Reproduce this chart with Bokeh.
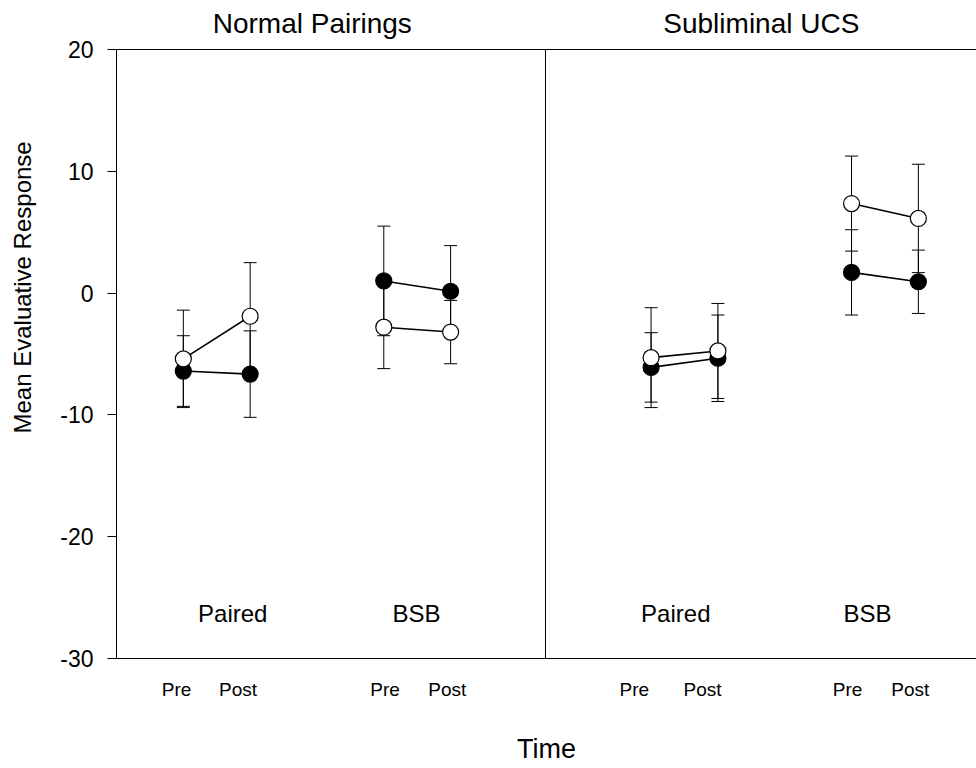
import math
from bokeh.plotting import figure
from bokeh.layouts import row
from bokeh.models import Range1d, FixedTicker, Span, Label, CustomJSTickFormatter, LinearAxis
from bokeh.core.properties import value
from bokeh.embed import file_html
from bokeh.resources import INLINE

# ---- data ----
panels = ["Normal Pairings", "Subliminal UCS"]
groups = ["Paired", "BSB"]
times = ["Pre", "Post"]
y_ticks = [-30, -20, -10, 0, 10, 20]
y_title = "Mean Evaluative Response"
x_title = "Time"

# order: panel -> group -> time (Pre, Post)
filled_mean = [-6.4, -6.65, 1.0, 0.15, -6.1, -5.35, 1.7, 0.93]
filled_err = [2.9, 3.55, 4.5, 3.75, 2.85, 3.55, 3.5, 2.6]
open_mean = [-5.4, -1.9, -2.8, -3.2, -5.3, -4.75, 7.35, 6.13]
open_err = [4.0, 4.4, 3.4, 2.6, 4.1, 3.9, 3.9, 4.45]

# ---- layout ----
slots = [1, 2, 4, 5]
panel_offset = [0, 7]
x_end = 12.87
divider = 6.42
tick_label_x = [0.9, 1.82, 4.02, 4.95, 7.75, 8.77, 10.94, 11.88]
group_label_x = [1.74, 4.49, 8.37, 11.24]
title_x = [2.93, 9.65]
FONT = "Liberation Sans"
W_LAB = 50
H = 768

xs = [off + s for off in panel_offset for s in slots]

# narrow strip holding the vertical y-axis title
lab = figure(width=W_LAB, height=H, x_range=Range1d(0, W_LAB), y_range=Range1d(0, H),
             output_backend="svg", toolbar_location=None, x_axis_location=None, y_axis_location=None,
             min_border=0)
lab.grid.visible = False
lab.outline_line_color = None
lab.text(x=[22], y=[H - 300], text=[y_title], angle=math.pi / 2, text_align="center",
         text_baseline="middle", text_font=value(FONT), text_font_size="24px", text_color="black")

p = figure(width=976 - W_LAB, height=H, x_range=Range1d(0, x_end), y_range=Range1d(-30, 20),
           output_backend="svg", toolbar_location=None,
           min_border_left=116 - W_LAB, min_border_right=0, min_border_top=49, min_border_bottom=110)
p.grid.visible = False
p.outline_line_color = None
p.background_fill_color = "white"
p.border_fill_color = "white"

# y axis
ya = p.yaxis[0]
ya.ticker = FixedTicker(ticks=y_ticks)
ya.formatter = CustomJSTickFormatter(code="return tick.toString();")
ya.minor_tick_line_color = None
ya.major_tick_in = 0
ya.major_tick_out = 9
ya.major_label_standoff = 14
ya.major_label_text_font = FONT
ya.major_label_text_font_size = "23px"
ya.major_label_text_color = "black"
ya.axis_line_color = "black"
ya.major_tick_line_color = "black"

# x axis (bottom)
tick_labels = [t for _ in panels for _ in groups for t in times]
xa = p.xaxis[0]
xa.ticker = FixedTicker(ticks=tick_label_x)
xa.formatter = CustomJSTickFormatter(args=dict(labels=tick_labels), code="return labels[index];")
xa.major_tick_line_color = None
xa.minor_tick_line_color = None
xa.major_tick_in = 0
xa.major_tick_out = 0
xa.major_label_standoff = 20
xa.major_label_text_font = FONT
xa.major_label_text_font_size = "19px"
xa.major_label_text_color = "black"
xa.axis_label = x_title
xa.axis_label_text_font = FONT
xa.axis_label_text_font_size = "27px"
xa.axis_label_text_font_style = "normal"
xa.axis_label_text_color = "black"
xa.axis_label_standoff = 31
xa.axis_line_color = "black"

# top axis carrying the panel titles
ta = LinearAxis(ticker=FixedTicker(ticks=title_x),
                formatter=CustomJSTickFormatter(args=dict(labels=panels), code="return labels[index];"),
                major_tick_line_color=None, minor_tick_line_color=None,
                major_tick_in=0, major_tick_out=0, major_label_standoff=11,
                major_label_text_font=FONT, major_label_text_font_size="28px",
                major_label_text_color="black", axis_line_color="black")
p.add_layout(ta, "above")

# panel divider
p.add_layout(Span(location=divider, dimension="height", line_color="black", line_width=1))

# error bars
for m, e in ((filled_mean, filled_err), (open_mean, open_err)):
    lo = [a - b for a, b in zip(m, e)]
    hi = [a + b for a, b in zip(m, e)]
    p.segment(x0=xs, y0=lo, x1=xs, y1=hi, line_color="black", line_width=1)
    p.scatter(x=xs + xs, y=lo + hi, marker="dash", size=13, line_color="black", line_width=1)

# connecting lines + markers
for m in (filled_mean, open_mean):
    p.segment(x0=xs[0::2], y0=m[0::2], x1=xs[1::2], y1=m[1::2], line_color="black", line_width=1.6)
for m, fill in ((filled_mean, "black"), (open_mean, "white")):
    p.scatter(x=xs, y=m, marker="circle", size=16, fill_color=fill, line_color="black", line_width=1.2)

# group labels
for i, gx in enumerate(group_label_x):
    p.add_layout(Label(x=gx, y=-26.27, text=groups[i % 2], text_align="center", text_baseline="middle",
                       text_font=FONT, text_font_size="24px", text_color="black"))

open("out.html", "w").write(file_html(row(lab, p), INLINE))
